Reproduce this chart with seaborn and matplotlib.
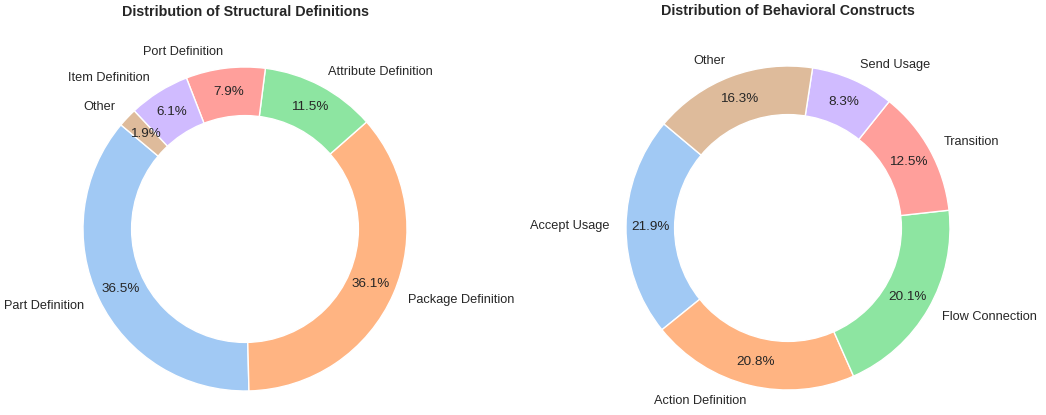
import matplotlib
matplotlib.use("Agg")
import matplotlib.pyplot as plt
import seaborn as sns

# данные для двух круговых диаграмм
struct_labels = ["Part Definition", "Package Definition", "Attribute Definition",
                 "Port Definition", "Item Definition", "Other"]
struct_values = [36.5, 36.1, 11.5, 7.9, 6.1, 1.9]

behav_labels = ["Accept Usage", "Action Definition", "Flow Connection",
                "Transition", "Send Usage", "Other"]
behav_values = [21.9, 20.8, 20.1, 12.5, 8.3, 16.3]

sns.set_theme(style="whitegrid")
plt.rcParams['font.family'] = ['Liberation Sans', 'DejaVu Sans']

colors = sns.color_palette("pastel")

fig = plt.figure(figsize=(10.46, 4.15), dpi=100)
W, H = 1046, 415
side = 405


def donut(cx, cy, values, labels, title):
    ax = fig.add_axes([(cx - side / 2) / W, (H - cy - side / 2) / H, side / W, side / H])
    wedges, texts, autotexts = ax.pie(values, labels=labels, colors=colors[:len(values)],
                                      autopct='%1.1f%%', startangle=140, pctdistance=0.85,
                                      wedgeprops=dict(edgecolor='white', linewidth=1),
                                      textprops=dict(fontsize=9.2))
    for t in autotexts:
        t.set_fontsize(9.7)
    # дырка в центре
    ax.add_artist(plt.Circle((0, 0), 0.70, fc='white'))
    ax.set_title(title, fontsize=10.3, fontweight='bold', pad=7.5)
    ax.set_xlim(-1.25, 1.25)
    ax.set_ylim(-1.25, 1.25)
    return ax


donut(245, 229, struct_values, struct_labels, "Distribution of Structural Definitions")
donut(788, 228, behav_values, behav_labels, "Distribution of Behavioral Constructs")

fig.savefig("out.png", dpi=100)
